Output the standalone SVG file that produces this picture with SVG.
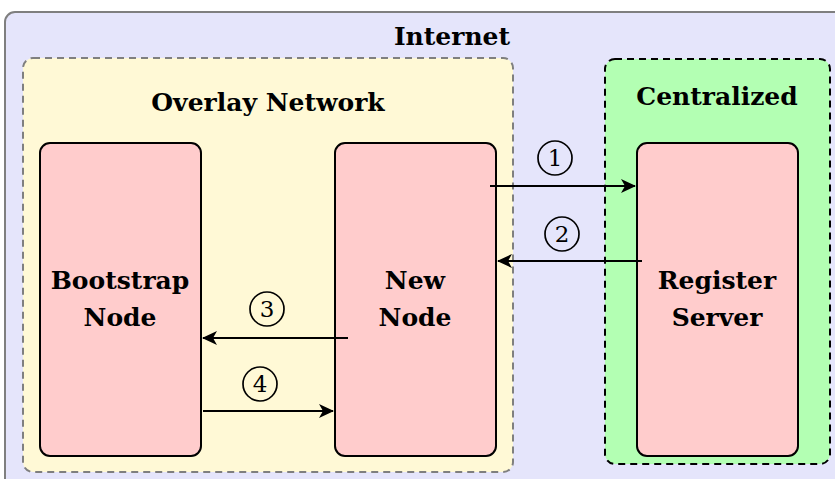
<svg xmlns="http://www.w3.org/2000/svg" width="835" height="479" viewBox="0 0 835 479">
<style>
.t{font-family:"DejaVu Serif","Liberation Serif",serif;font-weight:bold;font-size:25px;text-anchor:middle;fill:#000}
.n{font-family:"DejaVu Serif","Liberation Serif",serif;font-size:23px;text-anchor:middle;fill:#000}
.node{fill:#ffcccc;stroke:#000;stroke-width:2}
.c{fill:none;stroke:#000;stroke-width:1.7}
.a{stroke:#000;stroke-width:2.2;fill:none;marker-end:url(#ah)}
</style>
<defs>
<marker id="ah" viewBox="0 0 15 14" refX="14" refY="7" markerWidth="15" markerHeight="14" markerUnits="userSpaceOnUse" orient="auto">
<path d="M0,0 L15,7 L0,14 L4,7 Z" fill="#000"/>
</marker>
</defs>
<rect width="835" height="479" fill="#fff"/>
<g id="internet">
<rect x="5" y="12" width="845" height="480" rx="10" fill="#e5e5fb" stroke="#7f7f7f" stroke-width="2"/>
<text class="t" x="452" y="45">Internet</text>
</g>
<g id="overlay">
<rect x="23" y="58" width="490" height="414" rx="10" fill="#fff9d6" stroke="#7f7f7f" stroke-width="2" stroke-dasharray="7,5"/>
<text class="t" x="268" y="111">Overlay Network</text>
</g>
<g id="centralized">
<rect x="605" y="59" width="225" height="405" rx="10" fill="#b3ffb3" stroke="#000" stroke-width="2" stroke-dasharray="7,5"/>
<text class="t" x="717" y="105">Centralized</text>
</g>
<g id="bootstrap">
<rect class="node" x="40" y="143" width="161" height="313" rx="10"/>
<text class="t" x="120" y="289">Bootstrap</text>
<text class="t" x="120" y="326">Node</text>
</g>
<g id="newnode">
<rect class="node" x="335" y="143" width="161" height="313" rx="10"/>
<text class="t" x="415" y="289">New</text>
<text class="t" x="415" y="326">Node</text>
</g>
<g id="register">
<rect class="node" x="637" y="143" width="161" height="313" rx="10"/>
<text class="t" x="717" y="289">Register</text>
<text class="t" x="717" y="326">Server</text>
</g>
<g id="connectors">
<path class="a" d="M490,186 H635"/>
<path class="a" d="M642,261 H498"/>
<path class="a" d="M348,338 H203"/>
<path class="a" d="M203,411 H333"/>
<circle class="c" cx="555" cy="158" r="17"/>
<text class="n" x="555" y="166">1</text>
<circle class="c" cx="562" cy="234" r="17"/>
<text class="n" x="562" y="242">2</text>
<circle class="c" cx="267" cy="309" r="17"/>
<text class="n" x="267" y="317">3</text>
<circle class="c" cx="260" cy="384" r="17"/>
<text class="n" x="260" y="392">4</text>
</g>
</svg>
